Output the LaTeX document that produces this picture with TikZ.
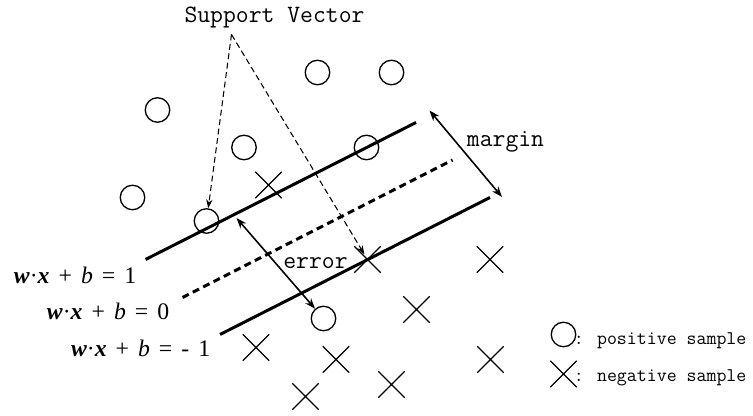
\documentclass[tikz,border=0pt]{standalone}
\usepackage{fontspec}
\setmainfont{Liberation Serif}
\usetikzlibrary{arrows, arrows.meta}
\usetikzlibrary{shapes}
\tikzset{every cross out node/.append style={-, solid}}
\tikzset{possample/.style={circle, draw, line width=0.75pt, minimum size=0.49cm, inner sep=0pt}}
\tikzset{negsample/.style={cross out, draw, line width=0.75pt, minimum size=0.5cm, inner sep=0pt}}
\tikzset{hyperplane/.style={line width=1.7pt}}
\tikzset{svarrow/.style={-{Stealth[length=5pt,width=3.6pt]}, dash pattern=on 3.4pt off 2pt, line width=0.6pt}}
\tikzset{dblarrow/.style={{Stealth[length=6pt,width=4.4pt]}-{Stealth[length=6pt,width=4.4pt]}, line width=0.9pt}}
\tikzset{labeltext/.style={font=\ttfamily\fontsize{14.2}{16}\selectfont}}
\newcommand{\hypeq}[1]{\textbf{\textit{w}}·\textbf{\textit{x}}\hspace{0.38em}+\hspace{0.38em}\textit{b}\hspace{0.38em}=\hspace{0.38em}#1}

\begin{document}
\begin{tikzpicture}
    \useasboundingbox (0,0) rectangle (15.06,8.32);
    % hyperplanes
    \draw[hyperplane] (2.91,3.13) -- (8.32,5.87);
    \draw[hyperplane, dash pattern=on 4pt off 2.6pt] (3.65,2.37) -- (9.05,5.12);
    \draw[hyperplane] (4.40,1.63) -- (9.80,4.37);
    % positive samples
    \node[possample] (p1) at (3.15,6.12) {};
    \node[possample] (p2) at (6.35,6.87) {};
    \node[possample] (p3) at (7.83,6.87) {};
    \node[possample] (p4) at (4.88,5.37) {};
    \node[possample] (p5) at (7.33,5.37) {};
    \node[possample] (p6) at (2.65,4.37) {};
    \node[possample] (p7) at (4.13,3.90) {};
    \node[possample] (p8) at (6.47,1.95) {};
    % negative samples
    \node[negsample] (n1) at (5.37,4.62) {};
    \node[negsample] (n2) at (7.35,3.13) {};
    \node[negsample] (n3) at (9.80,3.13) {};
    \node[negsample] (n4) at (8.33,2.13) {};
    \node[negsample] (n5) at (5.12,1.37) {};
    \node[negsample] (n6) at (6.72,1.13) {};
    \node[negsample] (n7) at (9.81,1.13) {};
    \node[negsample] (n8) at (7.83,0.63) {};
    \node[negsample] (n9) at (6.11,0.39) {};
    % support vectors
    \node[anchor=base, labeltext] (sv) at (5.49,7.86) {Support Vector};
    \coordinate (sva) at (4.63,7.63);
    \draw[svarrow] (sva) -- (p7);
    \draw[svarrow, shorten >=0.12cm] (sva) -- (n2.center);
    % margin and error
    \coordinate (mtop) at (8.59,6.11);
    \coordinate (mbot) at (10.04,4.38);
    \draw[dblarrow] (mtop) -- (mbot);
    \node[anchor=base, labeltext] (mg) at (10.11,5.39) {margin};
    \coordinate (errtop) at (4.73,3.96);
    \draw[dblarrow] (errtop) -- (p8);
    \node[anchor=base, labeltext] (er) at (6.31,2.94) {error};
    % hyperplane labels
    \node[anchor=base east, inner sep=0pt, font=\fontsize{13.5}{15}\selectfont] (h1) at (2.73,2.65) {\hypeq{1}};
    \node[anchor=base east, inner sep=0pt, font=\fontsize{13.5}{15}\selectfont] (h0) at (3.39,1.92) {\hypeq{0}};
    \node[anchor=base east, inner sep=0pt, font=\fontsize{13.5}{15}\selectfont] (hm) at (4.21,1.19) {\hypeq{-\hspace{0.38em}1}};
    % legend
    \node[possample] (lp) at (11.27,1.63) {};
    \node[negsample] (ln) at (11.27,0.84) {};
    \node[anchor=base west, inner sep=0pt, font=\ttfamily\fontsize{11}{12}\selectfont] (lpt) at (11.47,1.42) {: positive sample};
    \node[anchor=base west, inner sep=0pt, font=\ttfamily\fontsize{11}{12}\selectfont] (lnt) at (11.47,0.69) {: negative sample};
\end{tikzpicture}
\end{document}
